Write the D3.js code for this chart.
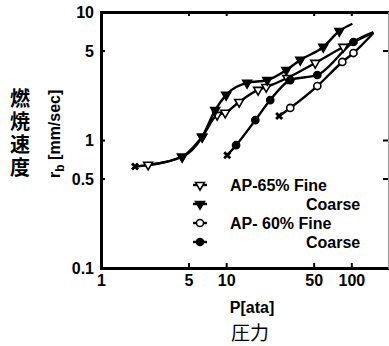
<!DOCTYPE html>
<html>
<head>
<meta charset="utf-8">
<script src="https://cdn.jsdelivr.net/npm/d3@7"></script>
<style>
  html, body { margin: 0; padding: 0; background: #fff; }
  svg { display: block; }
  .num { font-family: "Liberation Sans", Arial, sans-serif; font-weight: bold; font-size: 16px; fill: #000; }
  .leg { font-family: "Liberation Sans", Arial, sans-serif; font-weight: bold; font-size: 16px; fill: #000; }
  .jp { font-family: "Noto Sans CJK JP", sans-serif; fill: #000; }
</style>
</head>
<body>
<svg id="chart" width="389" height="346"></svg>
<script>
// Burning rate r_b [mm/sec] against pressure P [ata], log-log
const xTicks = [1, 5, 10, 50, 100];
const yTicks = [0.1, 0.5, 1, 5, 10];
const yTickLabels = ["0.1", "0.5", "1", "5", "10"];

// lowest pressure at which each propellant still burns (drawn as ×)
const limitPoints = [[1.87, 0.62], [10.2, 0.76], [26.5, 1.54]];

const ap65Fine = [[2.38, 0.64], [4.45, 0.74], [6.43, 1.06], [8.47, 1.57], [9.82, 1.63],
  [12.7, 1.98], [18.0, 2.46], [20.9, 2.59], [30.8, 3.05], [51.5, 4.0], [86.3, 5.33]];
const ap65FineTip = [150, 6.9];

const ap65Coarse = [[4.45, 0.74], [6.43, 1.06], [8.17, 1.71], [10, 2.25], [14.7, 2.79],
  [21.3, 2.94], [30.2, 3.52], [39.1, 4.22], [59.7, 5.33], [80.2, 7.1]];
const ap65CoarseStart = [1.87, 0.62];
const ap65CoarseTip = [102, 8.1];

const ap60Fine = [[32.5, 1.78], [53.5, 2.64], [84.7, 4.07], [104, 4.78]];
const ap60FineStart = [26.5, 1.54];
const ap60FineTip = [150, 6.85];

const ap60Coarse = [[12.0, 0.91], [17.1, 1.43], [22.5, 2.05], [32.5, 2.94], [53.5, 3.22], [104, 5.83]];
const ap60CoarseStart = [10.2, 0.76];
const ap60CoarseTip = [150, 6.95];

const legendLabels = ["AP-65% Fine", "Coarse", "AP- 60% Fine", "Coarse"];

const svg = d3.select("#chart");
const x = d3.scaleLog().domain([1, 200]).range([101, 389]);
const y = d3.scaleLog().domain([0.1, 10]).range([268, 12]);

// frame: heavy left / bottom / top, light right
const axisG = svg.append("g");
const axBottom = axisG.append("g").attr("transform", "translate(0,268)")
  .call(d3.axisBottom(x).tickValues(xTicks).tickFormat(d3.format("d"))
    .tickSizeInner(-5).tickSizeOuter(0).tickPadding(10));
const axLeft = axisG.append("g").attr("transform", "translate(101,0)")
  .call(d3.axisLeft(y).tickValues(yTicks).tickFormat((d, i) => yTickLabels[i])
    .tickSizeInner(-4).tickSizeOuter(0).tickPadding(7));
const axTop = axisG.append("g").attr("transform", "translate(0,12)")
  .call(d3.axisTop(x).tickValues([5, 10, 50, 100]).tickFormat("")
    .tickSizeInner(-4).tickSizeOuter(0));
const axRight = axisG.append("g").attr("transform", "translate(388,0)")
  .call(d3.axisRight(y).tickValues([0.5, 1, 5]).tickFormat("")
    .tickSizeInner(-5).tickSizeOuter(0));

[axBottom, axLeft, axTop].forEach(g => {
  g.select(".domain").attr("stroke", "#000").attr("stroke-width", 3).attr("stroke-linecap", "square");
  g.selectAll(".tick line").attr("stroke", "#000").attr("stroke-width", 2);
  g.selectAll(".tick text").attr("class", "num").attr("font-size", null).attr("font-family", null);
});
axRight.select(".domain").attr("stroke", "#999").attr("stroke-width", 1);
axRight.selectAll(".tick line").attr("stroke", "#000").attr("stroke-width", 2);
axBottom.selectAll(".tick text").attr("dy", "0.5em");
axLeft.selectAll(".tick text").attr("dy", "0.35em");

// series lines
const line = d3.line().x(d => x(d[0])).y(d => y(d[1])).curve(d3.curveMonotoneX);
const lineG = svg.append("g").attr("fill", "none").attr("stroke", "#000")
  .attr("stroke-width", 2.4).attr("stroke-linejoin", "round");
lineG.append("path").attr("d", line([...ap65Fine, ap65FineTip]));
lineG.append("path").attr("d", line([ap65CoarseStart, ...ap65Coarse, ap65CoarseTip]));
lineG.append("path").attr("d", line([ap60FineStart, ...ap60Fine, ap60FineTip]));
lineG.append("path").attr("d", line([ap60CoarseStart, ...ap60Coarse, ap60CoarseTip]));

// markers
const tri = d3.symbol().type(d3.symbolTriangle).size(34);
const circ = d3.symbol().type(d3.symbolCircle).size(40);
function markers(data, gen, fill, rot) {
  svg.append("g").selectAll("path").data(data).join("path")
    .attr("d", gen)
    .attr("transform", d => `translate(${x(d[0])},${y(d[1])}) rotate(${rot})`)
    .attr("fill", fill).attr("stroke", "#000").attr("stroke-width", 1.6);
}
markers(ap65Fine, tri, "#fff", 180);
markers(ap65Coarse, tri, "#000", 180);
markers(ap60Fine, circ, "#fff", 0);
markers(ap60Coarse, circ, "#000", 0);

svg.append("g").selectAll("path").data(limitPoints).join("path")
  .attr("d", d3.symbol().type(d3.symbolCross).size(40))
  .attr("transform", d => `translate(${x(d[0])},${y(d[1])}) rotate(45)`)
  .attr("fill", "#000");

// legend
const legG = svg.append("g");
const legKeys = [[tri, "#fff", 180], [tri, "#000", 180], [circ, "#fff", 0], [circ, "#000", 0]];
const legY = d3.scalePoint().domain(d3.range(4)).range([185, 242]);
legKeys.forEach((k, i) => {
  const cy = legY(i);
  legG.append("line").attr("x1", 193).attr("x2", 207).attr("y1", cy).attr("y2", cy)
    .attr("stroke", "#000").attr("stroke-width", 2.4);
  legG.append("path").attr("d", k[0]).attr("transform", `translate(200,${cy}) rotate(${k[2]})`)
    .attr("fill", k[1]).attr("stroke", "#000").attr("stroke-width", 1.6);
  const isSub = legendLabels[i] === "Coarse";
  legG.append("text").attr("class", "leg").attr("x", isSub ? 306 : 230).attr("y", cy)
    .attr("dy", "0.36em").text(legendLabels[i]);
});

// axis titles
svg.append("text").attr("class", "num").attr("x", 252).attr("y", 307)
  .attr("text-anchor", "middle").attr("dy", "0.35em").attr("font-size", 16).text("P[ata]");
svg.append("text").attr("class", "jp").attr("x", 250).attr("y", 333)
  .attr("text-anchor", "middle").attr("dy", "0.36em").attr("font-size", 19).text("圧力");

const yt = svg.append("text").attr("class", "num").attr("font-size", 15)
  .attr("transform", "translate(60,134) rotate(-90)").attr("text-anchor", "middle");
yt.append("tspan").attr("font-size", 17).text("r");
yt.append("tspan").attr("font-size", 12).attr("dy", 4).text("b");
yt.append("tspan").attr("dy", -4).text("  [mm/sec]");

svg.append("text").attr("class", "jp").attr("x", 20).attr("y", 88)
  .attr("font-size", 20).attr("font-weight", "bold")
  .style("writing-mode", "vertical-rl").style("letter-spacing", "3px")
  .text("燃焼速度");
</script>
</body>
</html>
